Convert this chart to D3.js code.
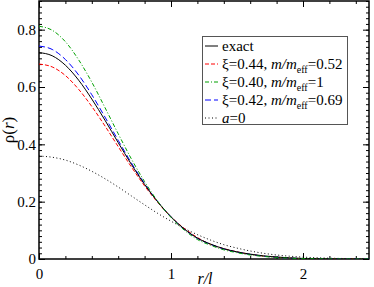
<!DOCTYPE html>
<html>
<head>
<meta charset="utf-8">
<script src="https://cdn.jsdelivr.net/npm/d3@7"></script>
<style>
  body { margin: 0; background: #fff; }
  svg { display: block; }
</style>
</head>
<body>
<div id="vis"></div>
<script>

////////////////////////////////////////
/////////////// Data ///////////////////
////////////////////////////////////////

// r/l sample positions
const radius = [0, 0.1, 0.2, 0.3, 0.4, 0.5, 0.6, 0.7, 0.8, 0.9, 1.0, 1.1, 1.2,
  1.3, 1.4, 1.5, 1.6, 1.7, 1.8, 1.9, 2.0, 2.1, 2.2, 2.3, 2.4, 2.5];

const exact = [0.720, 0.709, 0.676, 0.624, 0.558, 0.484, 0.406, 0.330, 0.260, 0.199,
  0.147, 0.105, 0.073, 0.052, 0.036, 0.025, 0.017, 0.011, 0.007, 0.004, 0.002, 0.001,
  0.0005, 0, 0, 0];

const xi044 = [0.680, 0.670, 0.640, 0.592, 0.532, 0.464, 0.392, 0.321, 0.255, 0.197,
  0.147, 0.107, 0.075, 0.051, 0.036, 0.025, 0.016, 0.010, 0.006, 0.003, 0.0015, 0.0007,
  0.0003, 0, 0, 0];

const xi040 = [0.812, 0.798, 0.758, 0.695, 0.617, 0.528, 0.437, 0.349, 0.270, 0.201,
  0.145, 0.101, 0.068, 0.048, 0.032, 0.022, 0.014, 0.009, 0.005, 0.003, 0.001, 0.0005,
  0.0002, 0, 0, 0];

const xi042 = [0.743, 0.731, 0.696, 0.642, 0.573, 0.495, 0.414, 0.335, 0.263, 0.200,
  0.147, 0.104, 0.072, 0.051, 0.035, 0.024, 0.016, 0.010, 0.006, 0.003, 0.0015, 0.0007,
  0.0003, 0, 0, 0];

const noninteracting = [0.359, 0.355, 0.345, 0.328, 0.306, 0.280, 0.251, 0.220, 0.189, 0.159,
  0.132, 0.107, 0.085, 0.066, 0.050, 0.038, 0.028, 0.020, 0.014, 0.0097, 0.0066, 0.0044,
  0.0028, 0.0018, 0.0011, 0.0007];

const xTicks = [0, 1, 2];
const yTicks = [0, 0.2, 0.4, 0.6, 0.8];

const series = [
  { name: "exact", values: exact, color: "#000", dash: null, width: 1 },
  { name: "xi044", values: xi044, color: "#f00", dash: "4,2", width: 1, xi: "0.44", ratio: "0.52" },
  { name: "xi040", values: xi040, color: "#00a000", dash: "4,2,1,2", width: 1, xi: "0.40", ratio: "1" },
  { name: "xi042", values: xi042, color: "#00f", dash: "6,3", width: 1, xi: "0.42", ratio: "0.69" },
  { name: "a0", values: noninteracting, color: "#000", dash: "1,2.5", width: 1 }
];

const SERIF = '"Liberation Serif"';

////////////////////////////////////////
////////////// SVG Setup ///////////////
////////////////////////////////////////

const W = 374, H = 287;
const margin = { top: 1, right: 5, bottom: 28, left: 39 };
const width = W - margin.left - margin.right;
const height = H - margin.top - margin.bottom;

const svg = d3.select("#vis").append("svg")
  .attr("width", W)
  .attr("height", H)
  .style("font-family", SERIF);

const g = svg.append("g")
  .attr("transform", `translate(${margin.left},${margin.top})`);

svg.append("defs").append("clipPath").attr("id", "plot")
  .append("rect").attr("width", width).attr("height", height);

////////////////////////////////////////
////////////// Scales //////////////////
////////////////////////////////////////

const x = d3.scaleLinear().domain([0, 2.5]).range([0, width]);
const y = d3.scaleLinear().domain([0, 0.9]).range([height, 0]);

////////////////////////////////////////
////////////// Axes ////////////////////
////////////////////////////////////////

const xMinor = d3.range(0, 2.5001, 0.2);
const yMinor = d3.range(0, 0.9001, 0.02);

function axisStyle(sel) {
  sel.style("font-family", SERIF).attr("font-size", 15);
  sel.select(".domain").remove();
  sel.selectAll("line").attr("stroke", "#000").attr("stroke-width", 1);
  sel.selectAll("text").style("font-family", SERIF).attr("font-size", 15).attr("fill", "#000");
}

// bottom
g.append("g").attr("transform", `translate(0,${height})`)
  .call(d3.axisBottom(x).tickValues(xMinor).tickSize(-3).tickFormat(""))
  .call(axisStyle);
g.append("g").attr("transform", `translate(0,${height})`)
  .call(d3.axisBottom(x).tickValues(xTicks).tickSize(-6).tickPadding(9).tickFormat(d3.format("d")))
  .call(axisStyle);

// top
g.append("g")
  .call(d3.axisTop(x).tickValues(xMinor).tickSize(-3).tickFormat(""))
  .call(axisStyle);
g.append("g")
  .call(d3.axisTop(x).tickValues(xTicks).tickSize(-6).tickFormat(""))
  .call(axisStyle);

// left
g.append("g")
  .call(d3.axisLeft(y).tickValues(yMinor).tickSize(-3).tickFormat(""))
  .call(axisStyle);
g.append("g")
  .call(d3.axisLeft(y).tickValues(yTicks).tickSize(-6).tickPadding(3).tickFormat(d => d === 0 ? "0" : d3.format(".1f")(d)))
  .call(axisStyle);

// right
g.append("g").attr("transform", `translate(${width},0)`)
  .call(d3.axisRight(y).tickValues(yMinor).tickSize(-3).tickFormat(""))
  .call(axisStyle);
g.append("g").attr("transform", `translate(${width},0)`)
  .call(d3.axisRight(y).tickValues(yTicks).tickSize(-6).tickFormat(""))
  .call(axisStyle);

// frame
g.append("rect")
  .attr("width", width)
  .attr("height", height)
  .attr("fill", "none")
  .attr("stroke", "#000")
  .attr("stroke-width", 1.5);

////////////////////////////////////////
////////////// Curves //////////////////
////////////////////////////////////////

const line = d3.line()
  .x((d, i) => x(radius[i]))
  .y(d => y(d))
  .curve(d3.curveMonotoneX);

const curves = g.append("g").attr("clip-path", "url(#plot)");

// draw dotted first, then the rest
[4, 1, 3, 0, 2].forEach(k => {
  const s = series[k];
  curves.append("path")
    .datum(s.values)
    .attr("d", line)
    .attr("fill", "none")
    .attr("stroke", s.color)
    .attr("stroke-width", s.width)
    .attr("stroke-dasharray", s.dash);
});

////////////////////////////////////////
////////////// Labels //////////////////
////////////////////////////////////////

const yLab = svg.append("text")
  .attr("transform", `translate(14,${margin.top + height / 2}) rotate(-90)`)
  .attr("text-anchor", "middle")
  .style("font-family", SERIF)
  .attr("font-size", 17);
yLab.append("tspan").text("ρ(");
yLab.append("tspan").attr("font-style", "italic").text("r");
yLab.append("tspan").text(")");

svg.append("text")
  .attr("x", margin.left + width / 2 + 1)
  .attr("y", 284)
  .attr("text-anchor", "middle")
  .style("font-family", SERIF)
  .attr("font-size", 16)
  .attr("font-style", "italic")
  .text("r/l");

////////////////////////////////////////
////////////// Legend //////////////////
////////////////////////////////////////

const legend = svg.append("g");
legend.append("rect")
  .attr("x", 202.5).attr("y", 36.5)
  .attr("width", 145).attr("height", 88)
  .attr("fill", "#fff")
  .attr("stroke", "#555")
  .attr("stroke-width", 1);

series.forEach((s, i) => {
  const cy = 46 + i * 18;
  legend.append("line")
    .attr("x1", 205).attr("x2", 218)
    .attr("y1", cy).attr("y2", cy)
    .attr("stroke", s.color)
    .attr("stroke-width", s.width)
    .attr("stroke-dasharray", s.dash);

  const t = legend.append("text")
    .attr("x", 222).attr("y", cy + 5)
    .style("font-family", SERIF)
    .attr("font-size", 15)
    .attr("fill", "#000");

  if (s.name === "exact") {
    t.text("exact");
  } else if (s.name === "a0") {
    t.append("tspan").attr("font-style", "italic").text("a");
    t.append("tspan").text("=0");
  } else {
    t.append("tspan").text(`ξ=${s.xi}, `);
    t.append("tspan").attr("font-style", "italic").text("m/m");
    t.append("tspan").attr("font-size", 10).attr("dy", 4).text("eff");
    t.append("tspan").attr("dy", -4).text(`=${s.ratio}`);
  }
});

</script>
</body>
</html>
